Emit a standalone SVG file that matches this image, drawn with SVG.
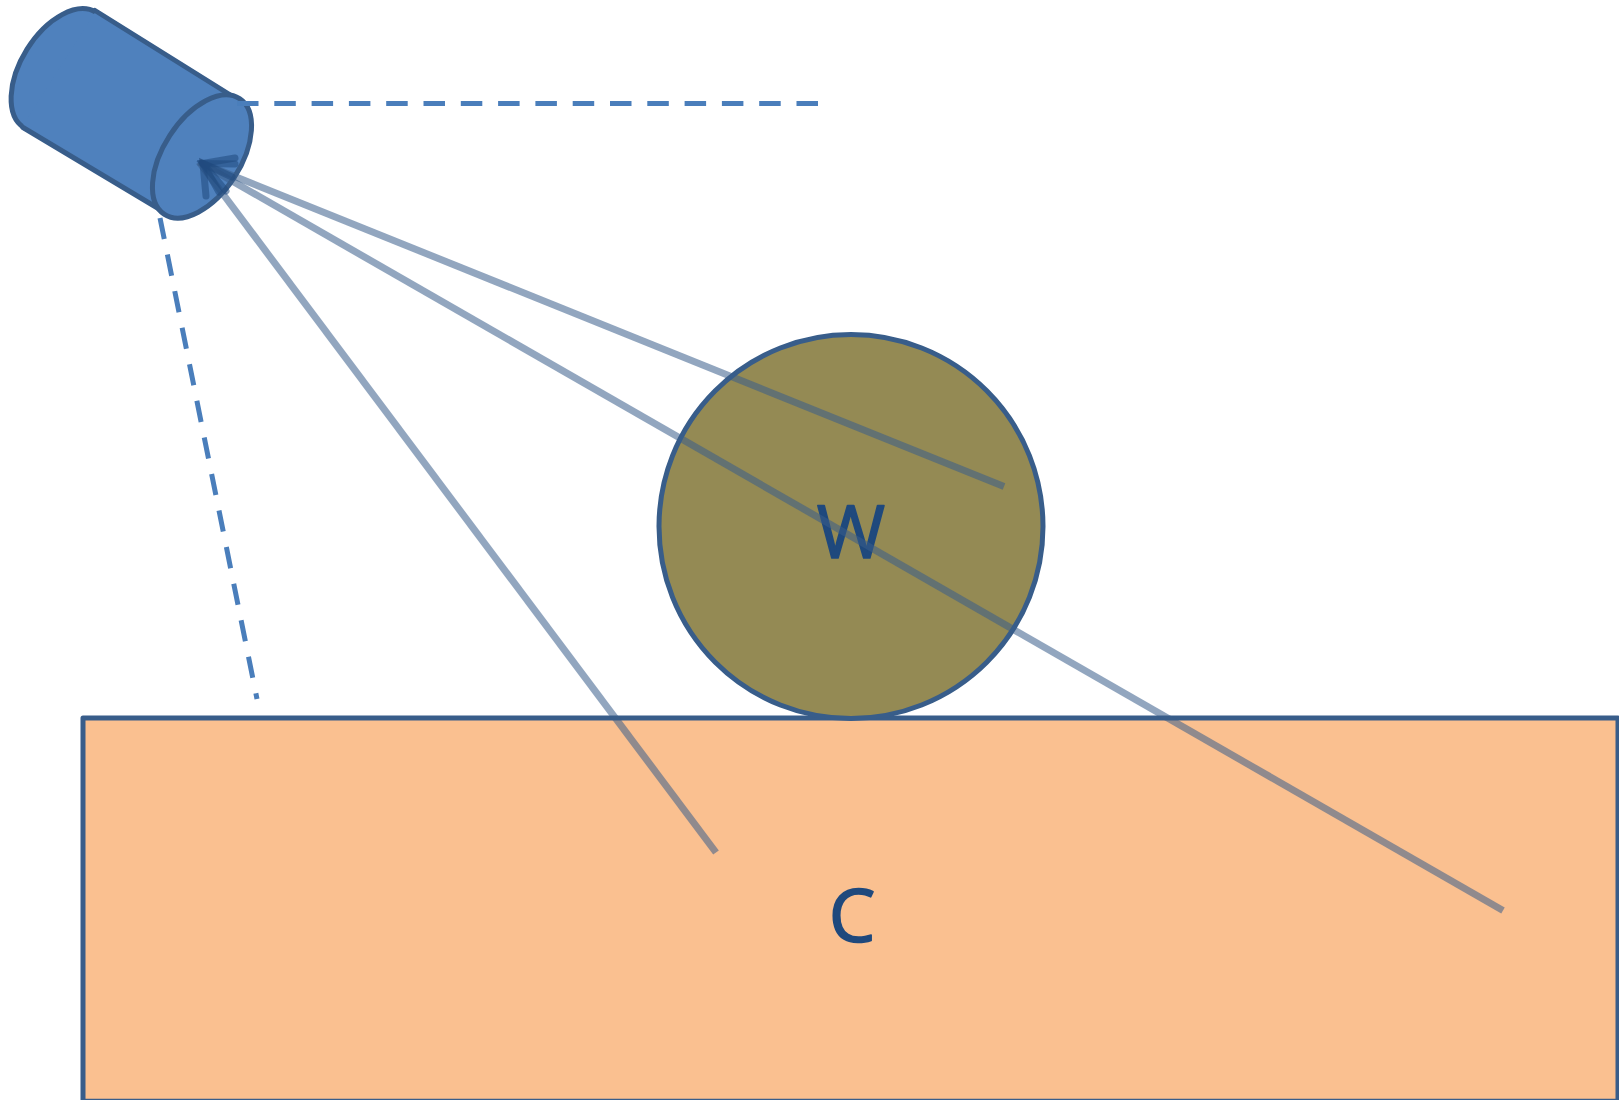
<svg xmlns="http://www.w3.org/2000/svg" width="1619" height="1100" viewBox="0 0 1619 1100">
<style>
.shape{stroke:#385d8a;stroke-width:5;stroke-linejoin:round}
.edge{fill:none;stroke:#385d8a;stroke-width:5;stroke-linecap:round}
.dash{fill:none;stroke:#4a7ebb;stroke-width:5;stroke-dasharray:21.5 15.8}
.ray{fill:none;stroke:#385d8a;stroke-width:7;stroke-opacity:.55}
.head{fill:none;stroke:#1f497d;stroke-width:7;stroke-opacity:.55;stroke-linecap:round;stroke-linejoin:miter;stroke-miterlimit:10}
.label{font-family:"Open Sans","Noto Sans",sans-serif;font-size:74px;fill:#1f497d;stroke:#1f497d;stroke-width:1.6;stroke-linejoin:round;text-anchor:middle}
</style>
<rect width="1619" height="1100" fill="#ffffff"/>
<g id="node-c">
<path class="shape" d="M83 1101V718H1618V1101" fill="#fac090"/>
<path d="M83 1099.5H1617" fill="none" stroke="#385d8a" stroke-width="1.5"/>
<text class="label" x="852" y="942">C</text>
</g>
<g id="node-w">
<circle class="shape" cx="851" cy="526.5" r="192" fill="#948a54"/>
<text class="label" x="851" y="557.5">W</text>
</g>
<g id="node-camera">
<ellipse class="shape" cx="60" cy="70" rx="39" ry="68" transform="rotate(32 60 70)" fill="#4f81bd"/>
<path d="M96 11L238 99L166 213L22 127Z" fill="#4f81bd"/>
<path class="edge" d="M95 10.5L236 98.5M23 127.5L165 212.5"/>
<ellipse class="shape" cx="202" cy="156.5" rx="38.5" ry="69" transform="rotate(33 202 156.5)" fill="#4f81bd"/>
</g>
<g id="connectors">
<path class="dash" d="M237 103.5H818"/>
<path class="dash" d="M160 218L257 699"/>
<path class="ray" d="M199 162L1004 486.5"/>
<path class="ray" d="M199 162L1503 910.5"/>
<path class="ray" d="M199 162L716 852.5"/>
<path class="head" d="M235 158L203 163.5L226 191"/>
<path class="head" d="M235 164L203 163.5L219 192"/>
<path class="head" d="M232 177L203 163.5L206 196"/>
</g>
</svg>
